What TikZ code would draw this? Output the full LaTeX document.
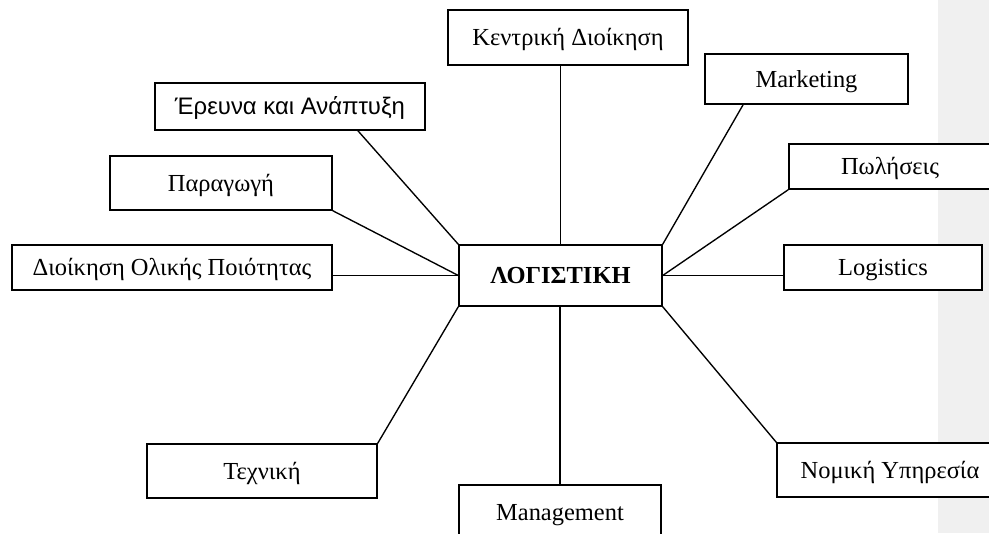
\documentclass[tikz,border=0pt]{standalone}
\usepackage{fontspec}
\usetikzlibrary{calc}
\setmainfont{Liberation Serif}
\newfontfamily\arialf{Liberation Sans}
\definecolor{bandgray}{RGB}{240,240,240}
\newcommand{\px}{0.515pt}
\begin{document}
\begin{tikzpicture}[x=0.515pt,y=-0.515pt,
  box/.style={draw, fill=white, line width=0.7pt, inner sep=0pt,
    text height=10pt, text depth=1.6pt,
    font=\fontsize{12.6}{14}\selectfont},
  conn/.style={line width=0.7pt}]
\useasboundingbox (0,0) rectangle (989,533);
\clip (0,0) rectangle (989,533);
\fill[bandgray] (938,0) rectangle (989,533);

% centre node
\node[box, minimum width=203*\px, minimum height=61*\px, font=\fontsize{12.6}{14}\selectfont\bfseries] (log) at (560.5,275.5) {ΛΟΓΙΣΤΙΚΗ};

% surrounding boxes
\node[box, minimum width=240*\px, minimum height=55*\px] (kd) at (568,37.5) {Κεντρική Διοίκηση};
\node[box, minimum width=203*\px, minimum height=50*\px] (mk) at (806.5,79) {Marketing};
\node[box, minimum width=202*\px, minimum height=45*\px] (pw) at (890,166.5) {Πωλήσεις};
\node[box, minimum width=198*\px, minimum height=45*\px] (lg) at (883,267.5) {Logistics};
\node[box, minimum width=226*\px, minimum height=54*\px] (nm) at (890,470) {Νομική Υπηρεσία};
\node[box, minimum width=202*\px, minimum height=54*\px] (mg) at (560,512) {Management};
\node[box, minimum width=230*\px, minimum height=54*\px] (tx) at (262,471) {Τεχνική};
\node[box, minimum width=320*\px, minimum height=45*\px] (dq) at (172,267.5) {Διοίκηση Ολικής Ποιότητας};
\node[box, minimum width=222*\px, minimum height=54*\px] (pa) at (221,183) {Παραγωγή};
\node[box, minimum width=270*\px, minimum height=47*\px, font=\fontsize{12.3}{14}\selectfont\arialf] (er) at (290,106.5) {Έρευνα και Ανάπτυξη};

% connectors
\draw[conn] (kd.south -| log.north) -- (log.north);
\draw[conn] ($(mk.south west)!0.19!(mk.south east)$) -- (log.north east);
\draw[conn] (pw.south west) -- (log.east);
\draw[conn] (log.east) -- (log.east -| lg.west);
\draw[conn] (log.south east) -- (nm.north west);
\draw[conn] (log.south -| mg.north) -- (mg.north);
\draw[conn] (log.south west) -- (tx.north east);
\draw[conn] (log.west -| dq.east) -- (log.west);
\draw[conn] (pa.south east) -- (log.west);
\draw[conn] ($(er.south west)!0.75!(er.south east)$) -- (log.north west);
\end{tikzpicture}
\end{document}
